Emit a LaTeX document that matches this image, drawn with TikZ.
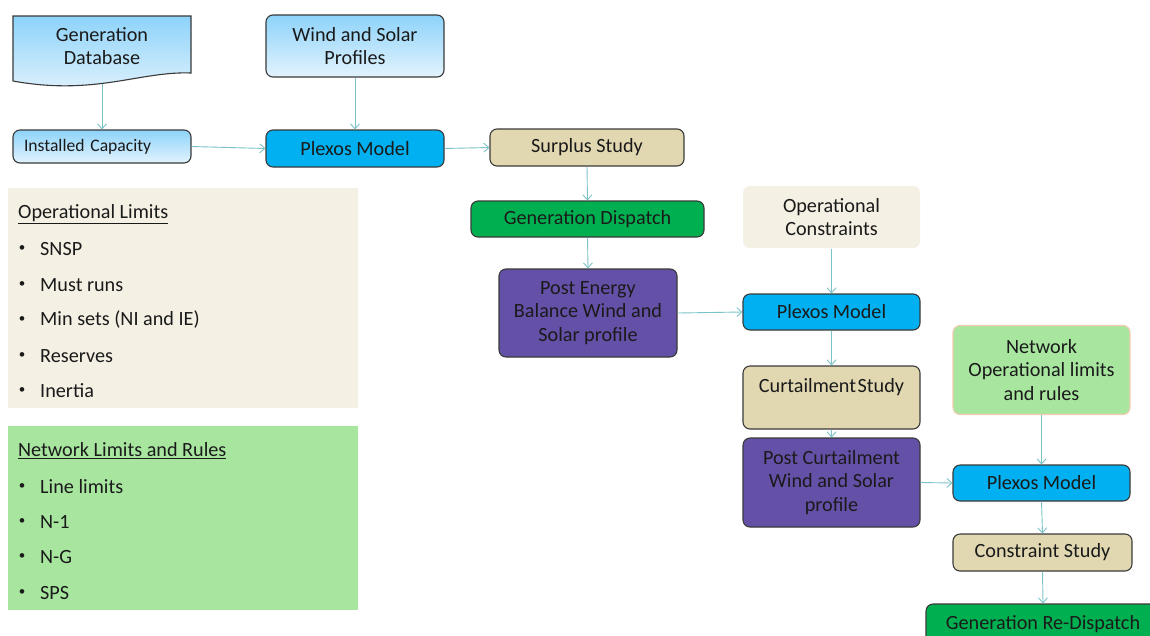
\documentclass[tikz,border=0pt]{standalone}
\usepackage{fontspec}
\setmainfont{Carlito}
\usetikzlibrary{arrows.meta}
\definecolor{boxline}{HTML}{3A3A3A}
\definecolor{blueTop}{HTML}{8DD3FA}
\definecolor{blueBot}{HTML}{E3F3FD}
\definecolor{plexos}{HTML}{00B0F0}
\definecolor{tan}{HTML}{E1D8B2}
\definecolor{dgreen}{HTML}{00B050}
\definecolor{purp}{HTML}{6550A8}
\definecolor{beige}{HTML}{F4F0E4}
\definecolor{lgreen}{HTML}{A8E6A0}
\definecolor{salmon}{HTML}{F2CBB0}
\definecolor{arrowc}{HTML}{7CC3C9}
\definecolor{txt}{HTML}{1A1A1A}
\newcommand{\mainsize}{\fontsize{20.2}{23.5}\selectfont}
\begin{document}
\begin{tikzpicture}[x=1pt,y=-1pt,
  base/.style={rounded corners=7pt, line width=1.1pt, draw=boxline, align=center, inner sep=0pt,
    text=txt, font=\mainsize},
  bluegrad/.style={base, top color=blueTop, bottom color=blueBot},
  plx/.style={base, fill=plexos},
  tanbox/.style={base, fill=tan},
  gbox/.style={base, fill=dgreen},
  pbox/.style={base, fill=purp},
  softbox/.style={base, draw=none, fill=beige},
  netbox/.style={base, draw=salmon, fill=lgreen},
  panel/.style={inner sep=0pt},
  item/.style={anchor=west, inner sep=0pt, text=txt, font=\mainsize},
  bul/.style={anchor=center, inner sep=0pt, text=txt, font=\fontsize{13}{14}\selectfont},
  arr/.style={draw=arrowc, line width=0.9pt, -{Straight Barb[length=5pt,width=9pt]}}
]
\clip (0,0) rectangle (1150,635);
\useasboundingbox (0,0) rectangle (1150,635);
\fill[white] (0,0) rectangle (1150,635);

% document shape
\path[line width=1.1pt, draw=boxline, top color=blueTop, bottom color=blueBot]
  (13,16) -- (191,16) -- (191,73) .. controls (140,71) and (95,96) .. (13,81) -- cycle;
\node[inner sep=0pt, align=center, text=txt, font=\mainsize] (gdb) at (102,46) {Generation\\Database};
\coordinate (gdbb) at (102,84);

\node[bluegrad, minimum width=178pt, minimum height=62pt] (ws) at (355,46) {Wind and Solar\\Profiles};
\node[bluegrad, minimum width=178pt, minimum height=33pt, text width=156pt, align=left,
  font=\fontsize{17.6}{20}\selectfont] (inst) at (102,146.5) {Installed Capacity};
\node[plx, minimum width=178pt, minimum height=37pt] (plx1) at (355,148.5) {Plexos Model};
\node[tanbox, minimum width=194pt, minimum height=37pt] (surp) at (587,147.5) {Surplus Study};
\node[gbox, minimum width=233pt, minimum height=36pt] (gd) at (587.5,219) {Generation Dispatch};
\node[pbox, minimum width=178pt, minimum height=88pt] (peb) at (588,313) {Post Energy\\Balance Wind and\\Solar profile};
\node[softbox, minimum width=177pt, minimum height=62pt] (opc) at (831.5,217) {Operational\\Constraints};
\node[plx, minimum width=177pt, minimum height=36pt] (plx2) at (831.5,312) {Plexos Model};
\node[tanbox, minimum width=177pt, minimum height=63pt] (curt) at (831.5,397.5) {Curtailment\hspace{1.5pt}Study\\[-6pt]\strut};
\node[pbox, minimum width=177pt, minimum height=89pt] (pcs) at (831.5,482.5) {Post Curtailment\\Wind and Solar\\profile};
\node[netbox, minimum width=177pt, minimum height=89pt] (net) at (1041.5,370) {Network\\Operational limits\\and rules};
\node[plx, minimum width=177pt, minimum height=36pt] (plx3) at (1041.5,483) {Plexos Model};
\node[tanbox, minimum width=179pt, minimum height=37pt] (cons) at (1042.5,552.5) {Constraint Study};
\node[gbox, minimum width=234pt, minimum height=40pt] (grd) at (1043,624) {Generation Re-Dispatch};

% panels
\node[panel, fill=beige, minimum width=350pt, minimum height=220pt] (opl) at (183,298) {};
\node[item] (oplt) at (18,214) {\underline{Operational Limits}};
\foreach \t/\yy [count=\i] in {SNSP/249, Must runs/285, Min sets (NI and IE)/320, Reserves/356, Inertia/391}{
  \node[bul] (ob\i) at (22,\yy) {•};
  \node[item] (ot\i) at (40,\yy) {\t};
}
\node[panel, fill=lgreen, minimum width=350pt, minimum height=184pt] (nlr) at (183,518) {};
\node[item] (nlrt) at (18,451) {\underline{Network Limits and Rules}};
\foreach \t/\yy [count=\i] in {Line limits/487, N-1/522, N-G/557, SPS/593}{
  \node[bul] (nb\i) at (22,\yy) {•};
  \node[item] (nt\i) at (40,\yy) {\t};
}

% connectors
\draw[arr] (gdbb) -- (inst.north);
\draw[arr] (ws.south) -- (plx1.north);
\draw[arr] (inst.east) -- (plx1.west);
\draw[arr] (plx1.east) -- (surp.west);
\draw[arr] (surp.south) -- (gd.north);
\draw[arr] (gd.south) -- (peb.north);
\draw[arr] (peb.east) -- (plx2.west);
\draw[arr] (opc.south) -- (plx2.north);
\draw[arr] (plx2.south) -- (curt.north);
\draw[arr] (curt.south) -- (pcs.north);
\draw[arr] (pcs.east) -- (plx3.west);
\draw[arr] (net.south) -- (plx3.north);
\draw[arr] (plx3.south) -- (cons.north);
\draw[arr] (cons.south) -- (grd.north);
\end{tikzpicture}
\end{document}
